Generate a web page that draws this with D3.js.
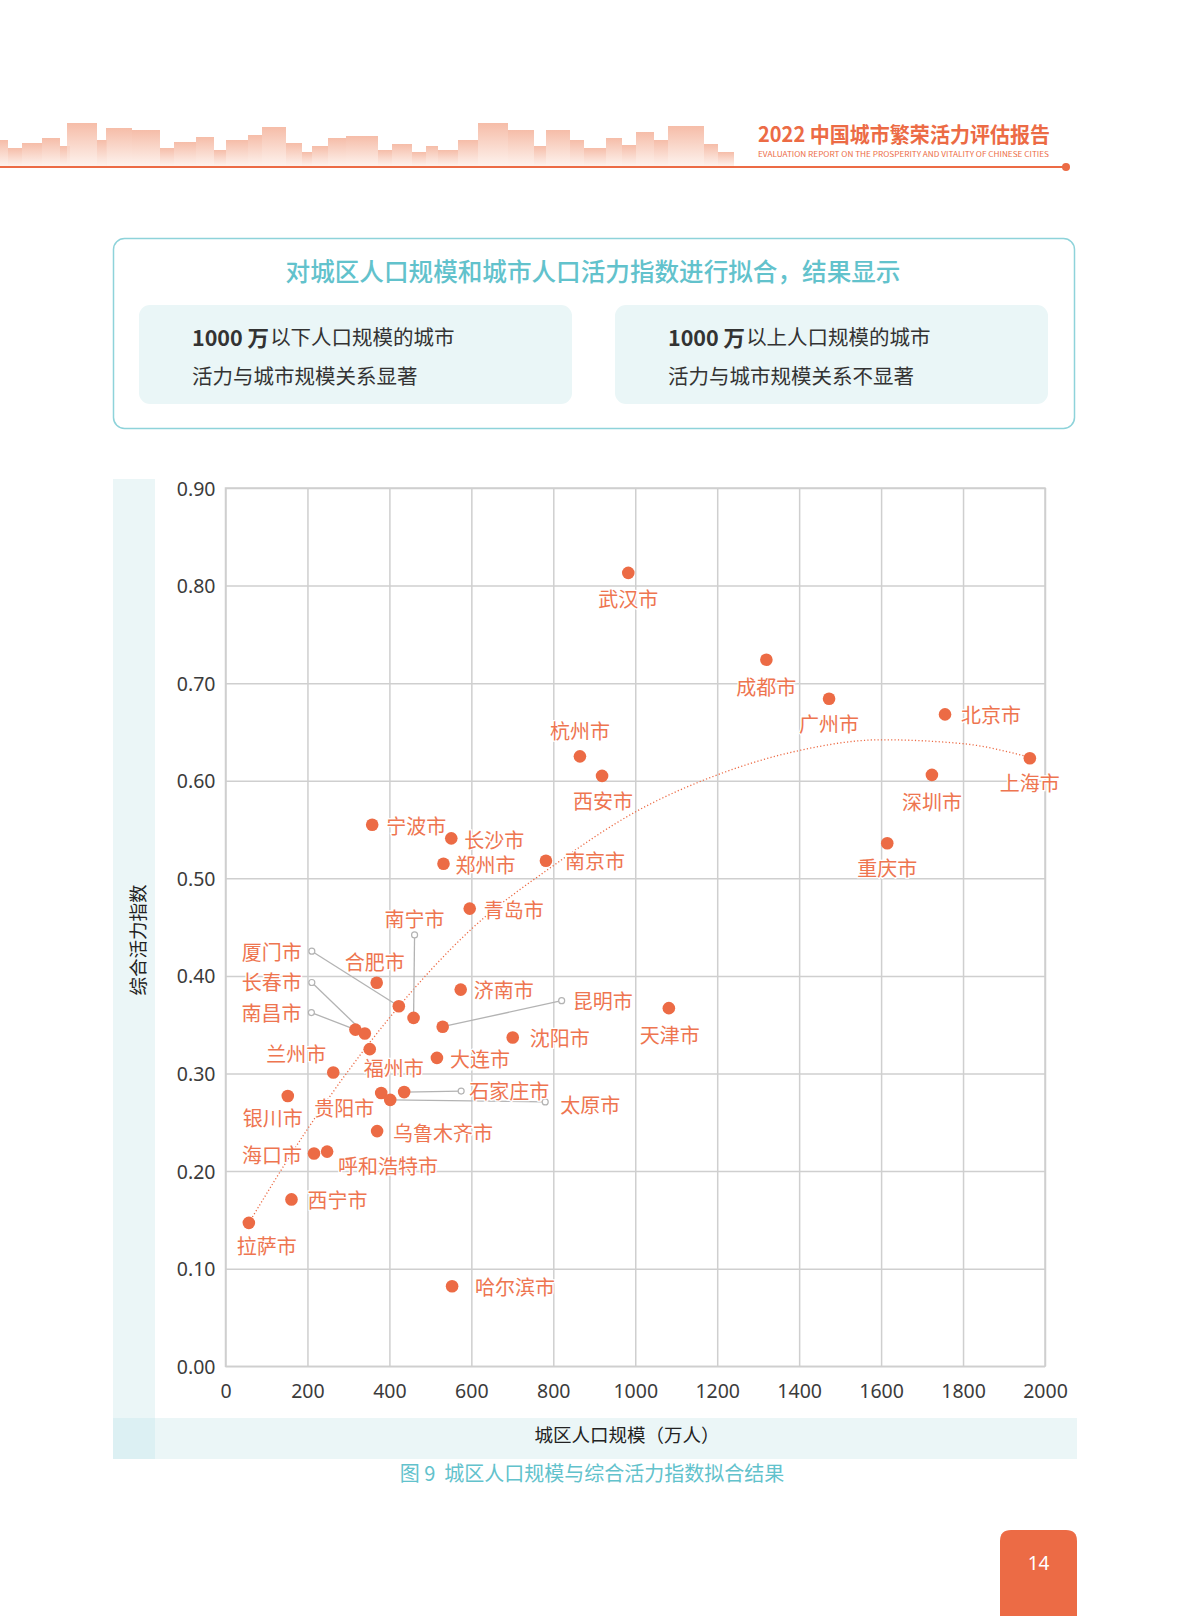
<!DOCTYPE html>
<html>
<head>
<meta charset="utf-8">
<script src="https://cdn.jsdelivr.net/npm/d3@7"></script>
<style>
  body { margin: 0; background: #fff; }
  svg { display: block; font-family: "Noto Sans CJK SC", "Noto Sans", sans-serif; }
</style>
</head>
<body>
<svg id="page" width="1191" height="1616"></svg>
<script>
// DATA
const cities = ["武汉市", "成都市", "广州市", "北京市", "上海市", "深圳市", "重庆市", "杭州市", "西安市", "南京市",
  "宁波市", "长沙市", "郑州市", "青岛市", "天津市", "合肥市", "厦门市", "南宁市", "济南市", "昆明市",
  "南昌市", "长春市", "福州市", "沈阳市", "大连市", "兰州市", "银川市", "贵阳市", "太原市", "石家庄市",
  "乌鲁木齐市", "海口市", "呼和浩特市", "西宁市", "拉萨市", "哈尔滨市"];
const population = [983, 1320, 1473, 1756, 1963, 1724, 1615, 865, 919, 782,
  358, 551, 532, 596, 1082, 369, 423, 459, 574, 530,
  317, 340, 352, 701, 516, 263, 152, 380, 402, 436,
  370, 216, 248, 161, 57, 553];
const vitality = [0.813, 0.724, 0.684, 0.668, 0.623, 0.606, 0.536, 0.625, 0.605, 0.518,
  0.555, 0.541, 0.515, 0.469, 0.367, 0.393, 0.369, 0.357, 0.386, 0.348,
  0.345, 0.341, 0.325, 0.337, 0.316, 0.301, 0.277, 0.280, 0.273, 0.281,
  0.241, 0.218, 0.220, 0.171, 0.147, 0.082];

// fitted curve
const fitPop = [57, 200, 400, 600, 800, 1000, 1200, 1400, 1600, 1800, 1963];
const fitIndex = [0.147, 0.243, 0.357, 0.448, 0.513, 0.568, 0.606, 0.631, 0.642, 0.638, 0.624];

const xTicks = [0, 200, 400, 600, 800, 1000, 1200, 1400, 1600, 1800, 2000];
const yTicks = [0, 0.1, 0.2, 0.3, 0.4, 0.5, 0.6, 0.7, 0.8, 0.9];

// label placement: [dx, dy, anchor] relative to the dot
const labelPos = {
  "武汉市": [0, 26, "middle"], "成都市": [0, 27, "middle"], "广州市": [0, 25, "middle"],
  "北京市": [16, 0, "start"], "上海市": [0, 24, "middle"], "深圳市": [0, 27, "middle"],
  "重庆市": [0, 24, "middle"], "杭州市": [0, -26, "middle"], "西安市": [1, 25, "middle"],
  "南京市": [19, 0, "start"], "宁波市": [14, 1, "start"], "长沙市": [13, 1, "start"],
  "郑州市": [12, 1, "start"], "青岛市": [14, 1, "start"], "天津市": [1, 26, "middle"],
  "合肥市": [-2, -21, "middle"], "济南市": [13, 0, "start"], "沈阳市": [17, 0, "start"],
  "大连市": [13, 1, "start"], "兰州市": [-37, -19, "middle"], "福州市": [24, 18, "middle"],
  "银川市": [-15, 22, "middle"], "贵阳市": [-37, 14, "middle"], "乌鲁木齐市": [16, 1, "start"],
  "海口市": [-12, 1, "end"], "呼和浩特市": [11, 14, "start"], "西宁市": [16, 0, "start"],
  "拉萨市": [18, 23, "middle"], "哈尔滨市": [23, 0, "start"], "南宁市": [1, -99, "middle"],
  "厦门市": [-97, -55, "end"], "长春市": [-63, -52, "end"], "南昌市": [-54, -17, "end"],
  "昆明市": [130, -26, "start"], "石家庄市": [65, -2, "start"], "太原市": [170, 5, "start"]
};
// leader line ends (small circles), relative to the dot
const leaders = {
  "南宁市": [1, -83], "厦门市": [-87, -55], "长春市": [-53, -51], "南昌市": [-44, -17],
  "昆明市": [119, -26], "石家庄市": [57, -1], "太原市": [155, 2]
};

// CONSTANTS
const orange = "#ec6b45";
const labelColor = "#ee7550";
const teal = "#62c2cc";
const band = "#ebf6f7";
const gridColor = "#cfcfcf";

const svg = d3.select("#page");

// ---------- page header ----------
const defs = svg.append("defs");
const grad = defs.append("linearGradient").attr("id", "sky").attr("x1", 0).attr("x2", 0).attr("y1", 0).attr("y2", 1);
grad.append("stop").attr("offset", "0%").attr("stop-color", "#f4b199");
grad.append("stop").attr("offset", "100%").attr("stop-color", "#fdf0ea");

const skyline = [[0, 8, 140], [8, 14, 148], [22, 20, 143], [42, 18, 138], [60, 10, 146], [67, 30, 123],
  [97, 10, 140], [106, 26, 128], [132, 28, 130], [160, 14, 148], [174, 22, 142], [196, 18, 137],
  [214, 12, 150], [226, 22, 140], [248, 14, 135], [262, 24, 127], [286, 16, 143], [302, 10, 152],
  [312, 16, 146], [328, 18, 138], [346, 32, 136], [378, 14, 150], [392, 20, 144], [412, 14, 152],
  [426, 12, 146], [438, 20, 150], [458, 20, 140], [478, 30, 123], [508, 26, 130], [534, 12, 146],
  [546, 24, 130], [570, 14, 140], [584, 22, 148], [606, 16, 138], [622, 14, 145], [636, 18, 132],
  [654, 14, 140], [668, 36, 126], [704, 14, 144], [718, 16, 152]];
svg.append("g").selectAll("rect").data(skyline).join("rect")
  .attr("x", d => d[0]).attr("y", d => d[2])
  .attr("width", d => d[1]).attr("height", d => 166 - d[2])
  .attr("fill", "url(#sky)").attr("opacity", 0.85);

svg.append("line").attr("x1", 0).attr("x2", 1066).attr("y1", 167).attr("y2", 167)
  .attr("stroke", orange).attr("stroke-width", 2);
svg.append("circle").attr("cx", 1066).attr("cy", 167).attr("r", 4).attr("fill", orange);

svg.append("text").attr("x", 758).attr("y", 142)
  .attr("font-size", 21).attr("font-weight", 700).attr("fill", orange)
  .attr("textLength", 292).attr("lengthAdjust", "spacingAndGlyphs")
  .text("2022 中国城市繁荣活力评估报告");
svg.append("text").attr("x", 758).attr("y", 157)
  .attr("font-size", 7.5).attr("fill", orange)
  .attr("textLength", 291).attr("lengthAdjust", "spacingAndGlyphs")
  .text("EVALUATION REPORT ON THE PROSPERITY AND VITALITY OF CHINESE CITIES");

// ---------- summary box ----------
svg.append("rect").attr("x", 113.5).attr("y", 238.5).attr("width", 961).attr("height", 190)
  .attr("rx", 11).attr("fill", "#fff").attr("stroke", "#8ed3da").attr("stroke-width", 1.5);
svg.append("text").attr("x", 593).attr("y", 270).attr("text-anchor", "middle")
  .attr("dominant-baseline", "central").attr("font-size", 24.6).attr("font-weight", 500)
  .attr("fill", teal).text("对城区人口规模和城市人口活力指数进行拟合，结果显示");

const boxes = [
  { x: 139, line1: "以下人口规模的城市", line2: "活力与城市规模关系显著" },
  { x: 615, line1: "以上人口规模的城市", line2: "活力与城市规模关系不显著" }
];
boxes.forEach(b => {
  svg.append("rect").attr("x", b.x).attr("y", 305).attr("width", 433).attr("height", 99)
    .attr("rx", 11).attr("fill", "#eaf6f7");
  const t = svg.append("text").attr("x", b.x + 53).attr("y", 336)
    .attr("dominant-baseline", "central").attr("font-size", 20.5).attr("fill", "#333");
  t.append("tspan").attr("font-weight", 700).attr("font-size", 21.5).text("1000 万");
  t.append("tspan").attr("dx", 1).text(b.line1);
  svg.append("text").attr("x", b.x + 53).attr("y", 375)
    .attr("dominant-baseline", "central").attr("font-size", 20.5).attr("fill", "#333")
    .text(b.line2);
});

// ---------- chart ----------
const margin = { top: 488, left: 225.5, right: 146, bottom: 249.7 };
const width = 1191, height = 1616;
const innerWidth = width - margin.left - margin.right;
const innerHeight = height - margin.top - margin.bottom;

// background bands
svg.append("rect").attr("x", 113).attr("y", 479).attr("width", 42).attr("height", 939).attr("fill", band);
svg.append("rect").attr("x", 155).attr("y", 1418).attr("width", 922).attr("height", 41).attr("fill", band);
svg.append("rect").attr("x", 113).attr("y", 1418).attr("width", 42).attr("height", 41).attr("fill", "#dcf0f3");

const xScale = d3.scaleLinear().domain([0, 2000]).range([0, innerWidth]);
const yScale = d3.scaleLinear().domain([0, 0.9]).range([innerHeight, 0]);

const g = svg.append("g").attr("transform", `translate(${margin.left},${margin.top})`);

const xAxis = d3.axisBottom(xScale).tickValues(xTicks).tickFormat(d3.format("d"))
  .tickSize(-innerHeight).tickPadding(18);
const yAxis = d3.axisLeft(yScale).tickValues(yTicks).tickFormat(d3.format(".2f"))
  .tickSize(-innerWidth).tickPadding(10);

const gx = g.append("g").attr("transform", `translate(0,${innerHeight})`).call(xAxis);
const gy = g.append("g").call(yAxis);
[gx, gy].forEach(a => {
  a.select(".domain").remove();
  a.selectAll(".tick line").attr("stroke", gridColor).attr("stroke-width", 1.5);
  a.selectAll(".tick text").attr("fill", "#3b3b3b").attr("font-size", 19.5)
    .attr("font-family", "'Noto Sans', 'Noto Sans CJK SC', sans-serif");
});
gy.selectAll(".tick text").attr("dy", "0.36em");
g.append("rect").attr("width", innerWidth).attr("height", innerHeight)
  .attr("fill", "none").attr("stroke", gridColor).attr("stroke-width", 1.5);

// axis titles
svg.append("text").attr("x", 627).attr("y", 1434).attr("text-anchor", "middle")
  .attr("dominant-baseline", "central").attr("font-size", 18.5).attr("fill", "#222")
  .text("城区人口规模（万人）");
svg.append("text").attr("transform", "translate(137,940) rotate(-90)").attr("text-anchor", "middle")
  .attr("dominant-baseline", "central").attr("font-size", 18.5).attr("fill", "#222")
  .text("综合活力指数");

// fitted curve
const fitData = fitPop.map((p, i) => [p, fitIndex[i]]);
g.append("path").datum(fitData)
  .attr("d", d3.line().x(d => xScale(d[0])).y(d => yScale(d[1])).curve(d3.curveMonotoneX))
  .attr("fill", "none").attr("stroke", orange).attr("stroke-width", 1.3)
  .attr("stroke-dasharray", "1.2 2.2");

const data = cities.map((c, i) => ({ name: c, pop: population[i], idx: vitality[i] }));
const px = d => xScale(d.pop);
const py = d => yScale(d.idx);

// leader lines
const led = data.filter(d => leaders[d.name]);
g.selectAll(".leader").data(led).join("line").attr("class", "leader")
  .attr("x1", px).attr("y1", py)
  .attr("x2", d => px(d) + leaders[d.name][0]).attr("y2", d => py(d) + leaders[d.name][1])
  .attr("stroke", "#b3b3b3").attr("stroke-width", 1.3);

// dots
g.selectAll(".dot").data(data).join("circle").attr("class", "dot")
  .attr("cx", px).attr("cy", py).attr("r", 6.3).attr("fill", orange);

g.selectAll(".lead-end").data(led).join("circle").attr("class", "lead-end")
  .attr("cx", d => px(d) + leaders[d.name][0]).attr("cy", d => py(d) + leaders[d.name][1])
  .attr("r", 3).attr("fill", "#fff").attr("stroke", "#b3b3b3").attr("stroke-width", 1.2);

// city labels
g.selectAll(".lbl").data(data).join("text").attr("class", "lbl")
  .attr("x", d => px(d) + labelPos[d.name][0])
  .attr("y", d => py(d) + labelPos[d.name][1])
  .attr("text-anchor", d => labelPos[d.name][2])
  .attr("dominant-baseline", "central")
  .attr("font-size", 20).attr("fill", labelColor)
  .attr("stroke", "#fff").attr("stroke-width", 2.5).attr("paint-order", "stroke")
  .text(d => d.name);

// caption
svg.append("text").attr("x", 592).attr("y", 1472).attr("text-anchor", "middle")
  .attr("dominant-baseline", "central").attr("font-size", 20).attr("fill", teal)
  .attr("xml:space", "preserve").style("white-space", "pre")
  .text("图 9  城区人口规模与综合活力指数拟合结果");

// page number
svg.append("path")
  .attr("d", "M1000,1616 V1541 Q1000,1530 1011,1530 H1066 Q1077,1530 1077,1541 V1616 Z")
  .attr("fill", orange);
svg.append("text").attr("x", 1038.5).attr("y", 1563).attr("text-anchor", "middle")
  .attr("dominant-baseline", "central").attr("font-size", 19).attr("fill", "#fff")
  .attr("font-family", "'Noto Sans', sans-serif").text("14");
</script>
</body>
</html>
